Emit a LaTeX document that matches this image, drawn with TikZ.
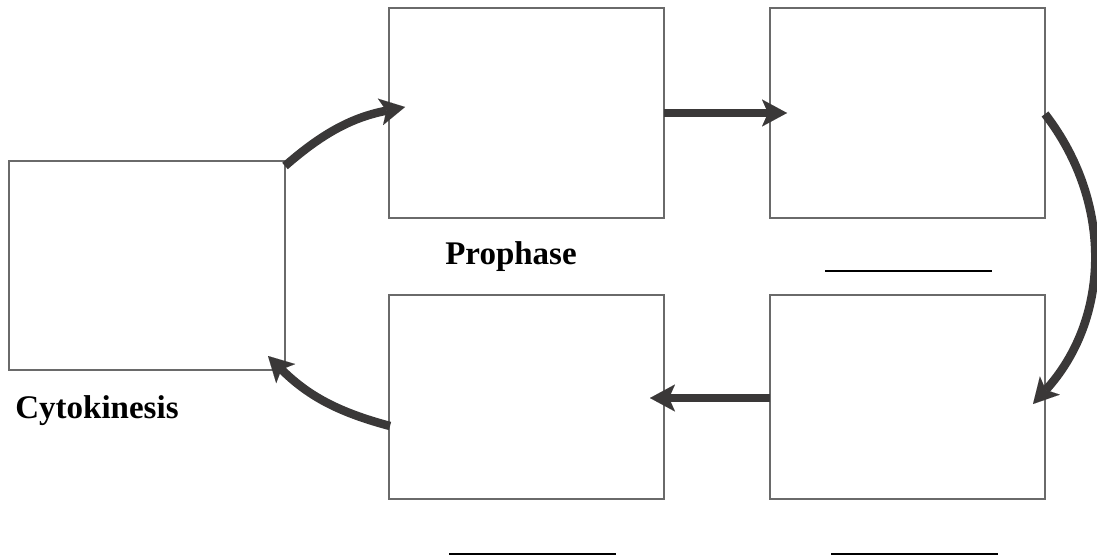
\documentclass[tikz,border=0pt]{standalone}
\usepackage{fontspec}
\setmainfont{Liberation Serif}
\usetikzlibrary{arrows.meta,calc}
\definecolor{arrowgray}{HTML}{3A3838}
\definecolor{boxgray}{HTML}{6A6A6A}
\tikzset{
  stagebox/.style={draw=boxgray, line width=1.4pt, rectangle, inner sep=0pt, outer sep=0pt, anchor=north west, fill=white},
  flow/.style={draw=arrowgray, line width=8.5pt, -{Stealth[length=25pt, width=27pt, inset=6pt, line width=0.01pt, fill=arrowgray]}},
  label/.style={font=\bfseries\fontsize{33}{36}\selectfont, anchor=base, inner sep=0pt},
  blank/.style={draw=black, line width=2.4pt}
}
\begin{document}
\begin{tikzpicture}[x=1pt,y=-1pt]
\useasboundingbox (0,0) rectangle (1097,556);
% boxes
\node[stagebox, minimum width=276pt, minimum height=209pt] (cyto) at (9,161) {};
\node[stagebox, minimum width=275pt, minimum height=210pt] (pro) at (389,8) {};
\node[stagebox, minimum width=275pt, minimum height=210pt] (meta) at (770,8) {};
\node[stagebox, minimum width=275pt, minimum height=204pt] (ana) at (770,295) {};
\node[stagebox, minimum width=275pt, minimum height=204pt] (telo) at (389,295) {};
% labels
\node[label] (lpro) at (511,264) {Prophase};
\node[label] (lcyto) at (97,418) {Cytokinesis};
% blanks
\coordinate (b1a) at (825,271); \coordinate (b1b) at (992,271);
\coordinate (b2a) at (449,554); \coordinate (b2b) at (616,554);
\coordinate (b3a) at (831,554); \coordinate (b3b) at (998,554);
\draw[blank] (b1a) -- (b1b);
\draw[blank] (b2a) -- (b2b);
\draw[blank] (b3a) -- (b3b);
% arrow end points
\coordinate (a1s) at ($(cyto.north east)+(0,5)$);
\coordinate (a1e) at ($(pro.north west)+(16,99)$);
\coordinate (a2s) at ($(pro.north east)+(0,105)$);
\coordinate (a2e) at ($(meta.north west)+(17,105)$);
\coordinate (a3s) at ($(meta.north east)+(0,106)$);
\coordinate (a3e) at ($(ana.north east)+(-12,109)$);
\coordinate (a4s) at ($(ana.north west)+(0,103)$);
\coordinate (a4e) at ($(telo.north east)+(-14,103)$);
\coordinate (a5s) at ($(telo.north west)+(1,131)$);
\coordinate (a5e) at ($(cyto.south east)+(-17,-14)$);
% arrows
\draw[flow] (a1s) to[bend left=15] (a1e);
\draw[flow] (a2s) -- (a2e);
\draw[flow] (a3s) to[bend left=40] (a3e);
\draw[flow] (a4s) -- (a4e);
\draw[flow] (a5s) to[bend left=15] (a5e);
\end{tikzpicture}
\end{document}
